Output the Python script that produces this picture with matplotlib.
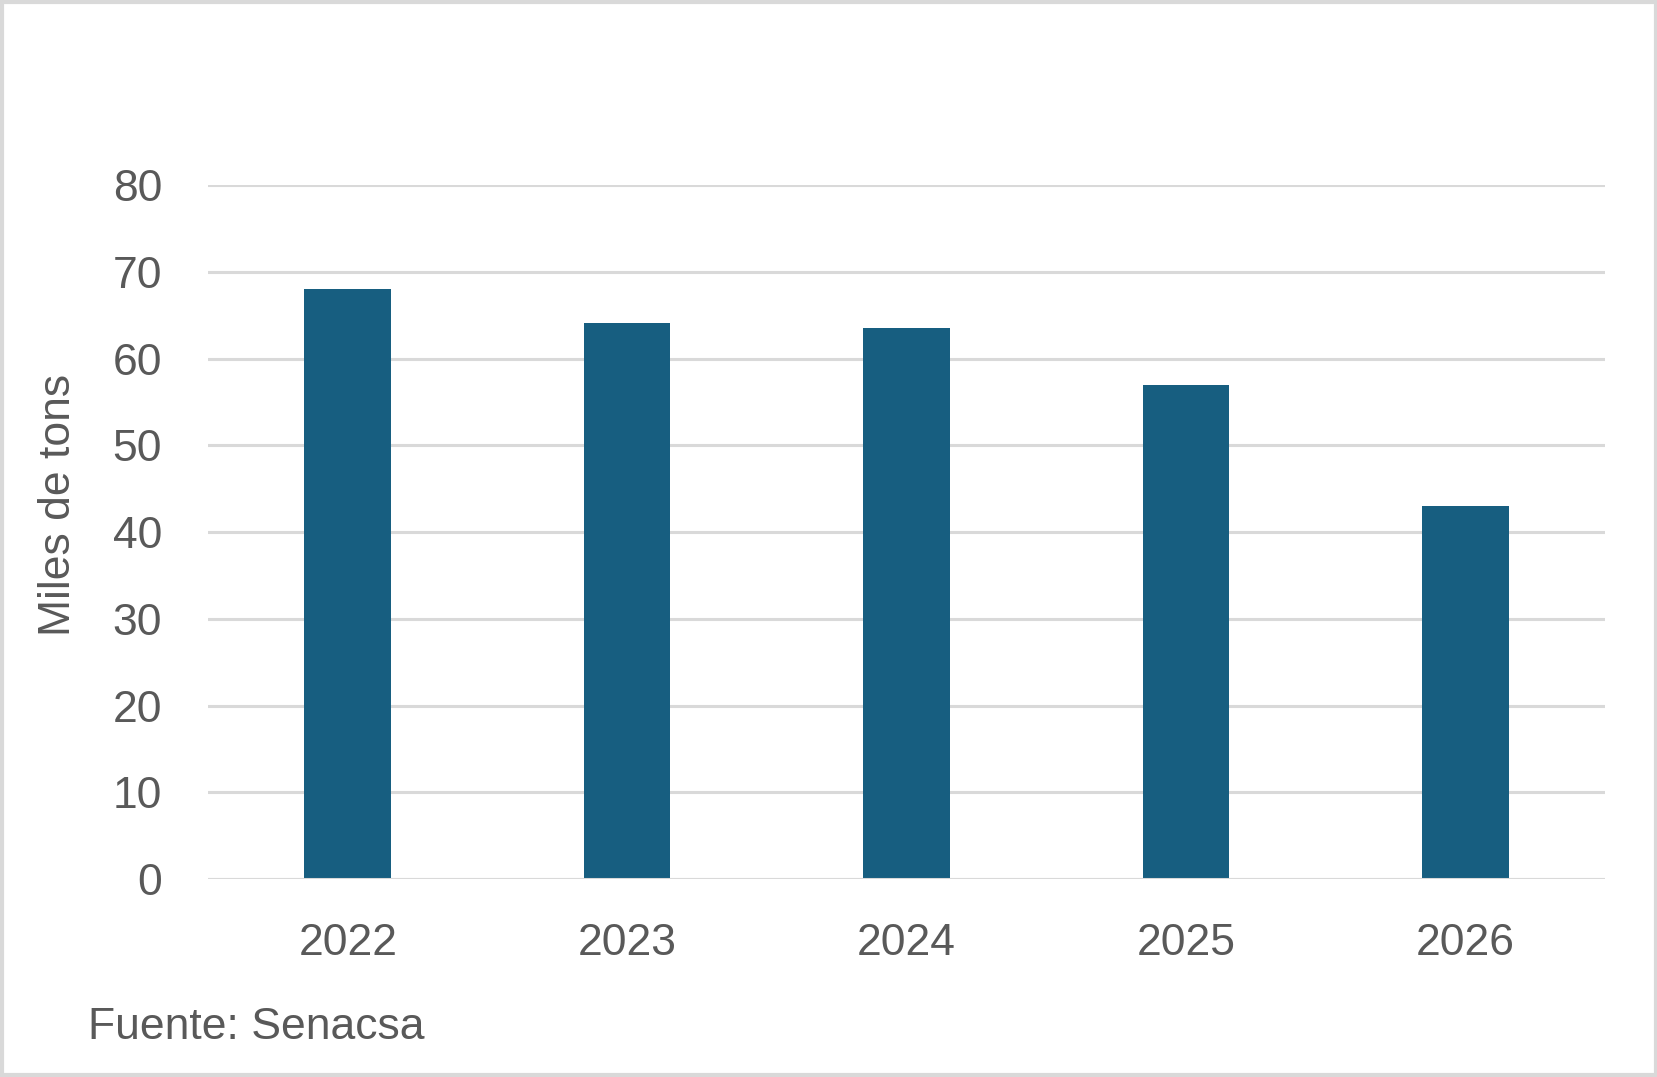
import matplotlib
matplotlib.use("Agg")
import matplotlib.pyplot as plt
from matplotlib.patches import Rectangle

years = ["2022", "2023", "2024", "2025", "2026"]
values = [68.0, 64.1, 63.5, 57.0, 43.0]

bar_color = "#175E80"
text_color = "#595959"
grid_color = "#D9D9D9"

plt.rcParams['font.family'] = ['Liberation Sans', 'DejaVu Sans']
fs = 32

fig = plt.figure(figsize=(16.58, 10.77), dpi=100)
ax = fig.add_axes([0.1255, 0.1838, 0.8425, 0.6444])

x = range(len(years))
ax.bar(x, values, width=0.31, color=bar_color, zorder=3)

ax.set_xlim(-0.5, len(years) - 0.5)
ax.set_ylim(0, 80)
ax.set_yticks(range(0, 81, 10))
ax.set_xticks(list(x))
ax.set_xticklabels(years)
ax.yaxis.grid(True, color=grid_color, linewidth=2.2, zorder=0)
for s in ax.spines.values():
    s.set_visible(False)
ax.tick_params(axis='both', length=0, labelsize=fs, labelcolor=text_color)
ax.tick_params(axis='y', pad=33)
ax.tick_params(axis='x', pad=32)
ax.axhline(0, color=grid_color, linewidth=2.2, zorder=4)

fig.text(0.035, 0.531, "Miles de tons", fontsize=fs, color=text_color,
         rotation=90, ha='center', va='center')

fig.text(0.053, 0.046, "Fuente: Senacsa", fontsize=fs, color=text_color,
         ha='left', va='center')

# light border around the whole picture
fig.patches.append(Rectangle((0.001, 0.0015), 0.998, 0.997, transform=fig.transFigure,
                             fill=False, edgecolor=grid_color, linewidth=3))

fig.savefig("out.png", dpi=100)
